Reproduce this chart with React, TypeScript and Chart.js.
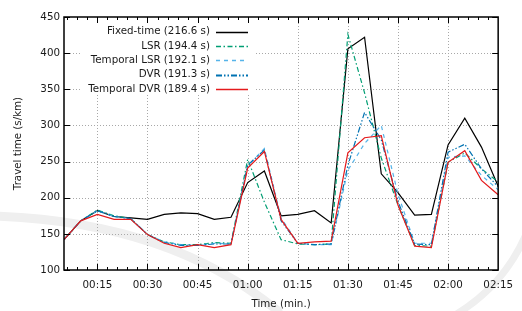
import React, { useEffect, useRef } from "react";
import { Chart, registerables } from "chart.js";

Chart.register(...registerables);

// Time of day in minutes since 00:00
const times = [5, 10, 15, 20, 25, 30, 35, 40, 45, 50, 55, 60, 65, 70, 75, 80, 85, 90, 95, 100, 105, 110, 115, 120, 125, 130, 135];

const xTickValues = [15, 30, 45, 60, 75, 90, 105, 120, 135];
const xTickLabels = ["00:15", "00:30", "00:45", "01:00", "01:15", "01:30", "01:45", "02:00", "02:15"];
const yTickValues = [100, 150, 200, 250, 300, 350, 400, 450];

const seriesLabels = [
  "Fixed-time (216.6 s)",
  "LSR (194.4 s)",
  "Temporal LSR (192.1 s)",
  "DVR (191.3 s)",
  "Temporal DVR (189.4 s)",
];

const fixedTime = [142, 168, 182, 174, 172, 170, 177, 179, 178, 170, 173, 221, 237, 175, 177, 182, 165, 406, 422, 233, 207, 176, 177, 273, 310, 270, 216];
const lsr = [142, 168, 183, 175, 171, 149, 139, 135, 135, 138, 137, 253, 194, 142, 136, 135, 136, 426, 345, 255, 190, 134, 133, 249, 262, 240, 222];
const temporalLsr = [142, 168, 182, 174, 171, 149, 139, 135, 134, 137, 136, 244, 268, 172, 137, 135, 135, 238, 275, 300, 205, 137, 137, 256, 258, 231, 211];
const dvr = [142, 168, 182, 174, 171, 149, 138, 134, 134, 136, 136, 245, 266, 168, 137, 135, 136, 245, 318, 280, 195, 136, 135, 263, 274, 240, 215];
const temporalDvr = [142, 168, 177, 170, 170, 149, 137, 131, 135, 131, 135, 241, 264, 170, 137, 139, 140, 262, 283, 286, 190, 133, 131, 249, 265, 224, 204];

const seriesValues = [fixedTime, lsr, temporalLsr, dvr, temporalDvr];
const seriesColors = ["#000000", "#009e73", "#56b4e9", "#0072b2", "#e41a1c"];
const seriesDashes: number[][] = [[], [5, 2.5, 1.5, 2.5], [4, 4], [6, 2, 1.5, 2, 1.5, 2], []];
const seriesWidths = [1.2, 1.2, 1.2, 1.2, 1.2];
const seriesOrder = [4, 3, 2, 1, 0];

const FONT = "DejaVu Sans";
const FS = 10.3;
const TEXT = "#1a1a1a";

const framePlugin = {
  id: "frame",
  beforeDraw(chart: any) {
    const ctx = chart.ctx;
    ctx.save();
    ctx.fillStyle = "#ffffff";
    ctx.fillRect(0, 0, chart.width, chart.height);
    // faint background watermark swooshes
    ctx.strokeStyle = "#efefef";
    ctx.lineCap = "round";
    ctx.lineWidth = 9;
    ctx.beginPath();
    ctx.moveTo(-5, 216);
    ctx.quadraticCurveTo(170, 222, 278, 311);
    ctx.stroke();
    ctx.lineWidth = 7;
    ctx.beginPath();
    ctx.moveTo(527, 232);
    ctx.quadraticCurveTo(505, 285, 455, 315);
    ctx.stroke();
    ctx.restore();
  },
  beforeDatasetsDraw(chart: any) {
    const { ctx, chartArea: a, scales } = chart;
    const xs = scales.x;
    const ys = scales.y;
    ctx.save();
    ctx.strokeStyle = "#a8a8a8";
    ctx.lineWidth = 1;
    ctx.setLineDash([1, 2]);
    yTickValues.forEach((v) => {
      const y = Math.round(ys.getPixelForValue(v)) + 0.5;
      if (v <= ys.min || v >= ys.max) return;
      ctx.beginPath();
      ctx.moveTo(a.left, y);
      ctx.lineTo(a.right, y);
      ctx.stroke();
    });
    xTickValues.forEach((v) => {
      if (v <= xs.min || v >= xs.max) return;
      const x = Math.round(xs.getPixelForValue(v)) + 0.5;
      ctx.beginPath();
      ctx.moveTo(x, a.top);
      ctx.lineTo(x, a.bottom);
      ctx.stroke();
    });
    ctx.setLineDash([]);
    // legend (key) box, opaque
    ctx.fillStyle = "#ffffff";
    ctx.fillRect(80, a.top + 1, 174, 76);
    ctx.restore();
  },
  afterDatasetsDraw(chart: any) {
    const { ctx, chartArea: a, scales } = chart;
    const xs = scales.x;
    const ys = scales.y;
    ctx.save();
    ctx.strokeStyle = "#000000";
    ctx.lineWidth = 1;
    // minor x ticks every 3 minutes, major every 15
    for (let m = 6; m < 135; m += 3) {
      const x = Math.round(xs.getPixelForValue(m)) + 0.5;
      const len = m % 15 === 0 ? 6 : 3;
      ctx.beginPath();
      ctx.moveTo(x, a.bottom);
      ctx.lineTo(x, a.bottom - len);
      ctx.moveTo(x, a.top);
      ctx.lineTo(x, a.top + len);
      ctx.stroke();
    }
    yTickValues.forEach((v) => {
      const y = Math.round(ys.getPixelForValue(v)) + 0.5;
      ctx.beginPath();
      ctx.moveTo(a.left, y);
      ctx.lineTo(a.left + 6, y);
      ctx.moveTo(a.right, y);
      ctx.lineTo(a.right - 6, y);
      ctx.stroke();
    });
    ctx.lineWidth = 1.5;
    ctx.strokeRect(a.left, a.top, a.right - a.left, a.bottom - a.top);

    // key
    ctx.font = `${FS}px "${FONT}"`;
    ctx.textAlign = "right";
    ctx.textBaseline = "middle";
    chart.data.datasets.forEach((ds: any, i: number) => {
      const y = a.top + 14.7 + i * 14.3;
      ctx.fillStyle = TEXT;
      ctx.fillText(ds.label, 210, y);
      ctx.strokeStyle = ds.borderColor;
      ctx.lineWidth = ds.borderWidth + (i === 3 ? 0.6 : 0.3);
      ctx.setLineDash(ds.borderDash || []);
      ctx.beginPath();
      ctx.moveTo(216, Math.round(y) + 0.5);
      ctx.lineTo(248, Math.round(y) + 0.5);
      ctx.stroke();
      ctx.setLineDash([]);
    });
    ctx.restore();
  },
};

export default function App() {
  const ref = useRef<HTMLCanvasElement | null>(null);

  useEffect(() => {
    if (!ref.current) return;
    const chart = new Chart(ref.current, {
      type: "line",
      data: {
        datasets: seriesLabels.map((label, i) => ({
          label,
          data: times.map((t, j) => ({ x: t, y: seriesValues[i][j] })),
          borderColor: seriesColors[i],
          backgroundColor: seriesColors[i],
          borderWidth: seriesWidths[i],
          borderDash: seriesDashes[i],
          pointRadius: 0,
          tension: 0,
          fill: false,
          order: seriesOrder[i],
        })),
      },
      options: {
        animation: false,
        responsive: false,
        devicePixelRatio: 1,
        layout: { padding: { left: 0, right: 13, top: 17, bottom: 0 } },
        plugins: {
          legend: { display: false },
          tooltip: { enabled: false },
        },
        scales: {
          x: {
            type: "linear",
            min: 5,
            max: 135,
            grid: { display: false, drawTicks: false },
            border: { display: false },
            afterBuildTicks: (s: any) => {
              s.ticks = xTickValues.map((v) => ({ value: v }));
            },
            afterFit: (s: any) => {
              s.height = 41;
            },
            ticks: {
              autoSkip: false,
              maxRotation: 0,
              padding: 9,
              color: TEXT,
              font: { family: FONT, size: FS },
              callback: (v: any) => {
                const k = xTickValues.indexOf(Number(v));
                return k >= 0 ? xTickLabels[k] : "";
              },
            },
            title: {
              display: true,
              text: "Time (min.)",
              color: TEXT,
              font: { family: FONT, size: FS },
              padding: { top: 0, bottom: 0 },
            },
          },
          y: {
            type: "linear",
            min: 100,
            max: 450,
            grid: { display: false, drawTicks: false },
            border: { display: false },
            afterBuildTicks: (s: any) => {
              s.ticks = yTickValues.map((v) => ({ value: v }));
            },
            afterFit: (s: any) => {
              s.width = 64;
            },
            ticks: {
              padding: 4,
              color: TEXT,
              font: { family: FONT, size: FS },
            },
            title: {
              display: true,
              text: "Travel time (s/km)",
              color: TEXT,
              font: { family: FONT, size: FS },
              padding: { top: 12, bottom: 0 },
            },
          },
        },
      },
      plugins: [framePlugin],
    });
    return () => chart.destroy();
  }, []);

  return (
    <div style={{ position: "absolute", left: 0, top: 0, width: 522, height: 311 }}>
      <canvas ref={ref} width={522} height={311} style={{ display: "block" }} />
    </div>
  );
}
